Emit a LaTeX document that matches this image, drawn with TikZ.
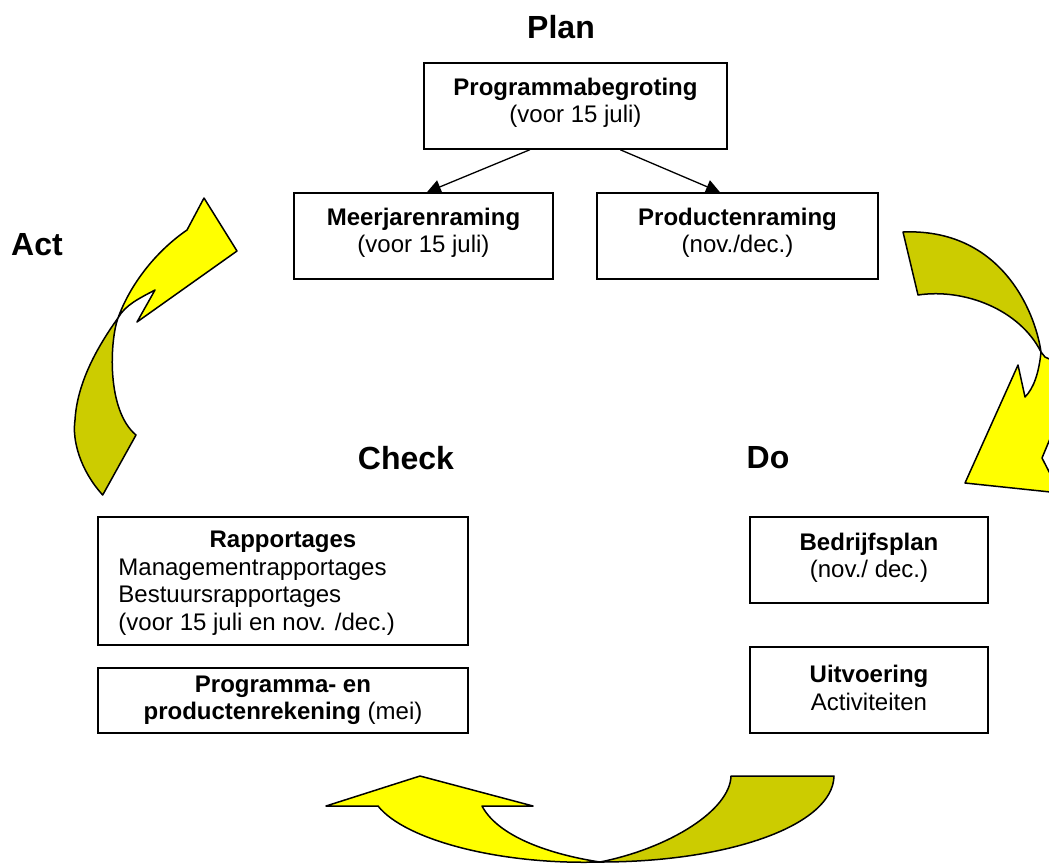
\documentclass[tikz,border=0pt]{standalone}
\usepackage{fontspec}
\setmainfont{Liberation Sans}
\usetikzlibrary{arrows.meta,calc}
\definecolor{ylw}{HTML}{FFFF00}
\definecolor{olv}{HTML}{CCCC00}
\begin{document}
\begin{tikzpicture}[x=1pt,y=-1pt,
  box/.style={draw, line width=1.5pt, inner sep=0pt},
  txt/.style={align=center, font=\fontsize{24}{27.5}\selectfont, inner sep=0pt},
  head/.style={font=\fontsize{32}{36}\selectfont\bfseries, inner sep=0pt},
  back/.style={fill=olv, draw=black, line width=1.5pt, line join=round},
  front/.style={fill=ylw, draw=black, line width=1.5pt, line join=round},
  conn/.style={line width=1.3pt, -{Triangle[length=14pt,width=14pt]}}]
\useasboundingbox (0,0) rectangle (1049,863);

% headings
\node[head] (plan)  at (561,27)  {Plan};
\node[head] (act)   at (37,245)  {Act};
\node[head] (check) at (406,458) {Check};
\node[head] (do)    at (768,458) {Do};

% boxes
\node[box, minimum width=303pt, minimum height=86pt]  (pb)  at (575.5,106) {};
\node[box, minimum width=259pt, minimum height=86pt]  (mj)  at (423.5,236) {};
\node[box, minimum width=281pt, minimum height=86pt]  (pr)  at (737.5,236) {};
\node[box, minimum width=370pt, minimum height=128pt] (rap) at (283,581)   {};
\node[box, minimum width=370pt, minimum height=65pt]  (ppr) at (283,700.5) {};
\node[box, minimum width=238pt, minimum height=86pt]  (bp)  at (869,560)   {};
\node[box, minimum width=238pt, minimum height=86pt]  (uv)  at (869,690)   {};

% texts
\node[txt] (pbt) at ($(pb.center)+(0,-3)$) {\textbf{Programmabegroting}\\(voor 15 juli)};
\node[txt] (mjt) at ($(mj.center)+(0,-3)$) {\textbf{Meerjarenraming}\\(voor 15 juli)};
\node[txt] (prt) at ($(pr.center)+(0,-3)$) {\textbf{Productenraming}\\(nov./dec.)};
\node[txt] (rapt) at ($(rap.north)+(0,26)$) {\textbf{Rapportages}};
\node[txt, align=left, anchor=west] (rapl) at ($(rap.west)+(21,16)$)
  {Managementrapportages\\Bestuursrapportages\\(voor 15 juli en nov. /dec.)};
\node[txt] (pprt) at ($(ppr.center)+(0,0)$) {\textbf{Programma- en}\\\textbf{productenrekening} (mei)};
\node[txt] (bpt) at ($(bp.center)+(0,-2)$) {\textbf{Bedrijfsplan}\\(nov./ dec.)};
\node[txt] (uvt) at ($(uv.center)+(0,-2)$) {\textbf{Uitvoering}\\Activiteiten};

% connectors
\draw[conn] ($(pb.south west)!0.35!(pb.south east)$) -- ($(mj.north west)!0.513!(mj.north east)$);
\draw[conn] ($(pb.south west)!0.647!(pb.south east)$) -- ($(pr.north west)!0.438!(pr.north east)$);

% curved arrows
\begin{scope}
\clip (0,0) rectangle (1049,863);
% Act arrow (left)
\draw[back] (136,435) -- (102.7,495)
  .. controls (80,470) and (72,440) .. (75,420)
  .. controls (77,385) and (95,350) .. (118,318)
  .. controls (110,340) and (106,410) .. cycle;
\draw[front] (118,318) .. controls (130,285) and (155,252) .. (187,230)
  -- (204,198) -- (237,251) -- (137,322) -- (155,290)
  .. controls (140,298) and (125,305) .. cycle;
% Plan -> Do arrow (right)
\draw[back] (903,232) -- (918,295)
  .. controls (965,288) and (1020,310) .. (1041,352)
  .. controls (1035,310) and (1000,228) .. cycle;
\draw[front] (1041,352) .. controls (1039,372) and (1034,388) .. (1025,397)
  -- (1018,365) -- (965,483) -- (1060,493) -- (1042,458) -- (1062,410)
  -- (1062,365) -- (1045,357) -- cycle;
% Do -> Check arrow (bottom)
\draw[back] (731,776) -- (834,776)
  .. controls (833,825) and (730,862) .. (600,862)
  .. controls (670,848) and (730,810) .. cycle;
\draw[front] (600,862) .. controls (560,856) and (500,840) .. (482,806)
  -- (533,806) -- (420,776) -- (326,806) -- (378,806)
  .. controls (405,840) and (500,865) .. cycle;
\end{scope}
\end{tikzpicture}
\end{document}
